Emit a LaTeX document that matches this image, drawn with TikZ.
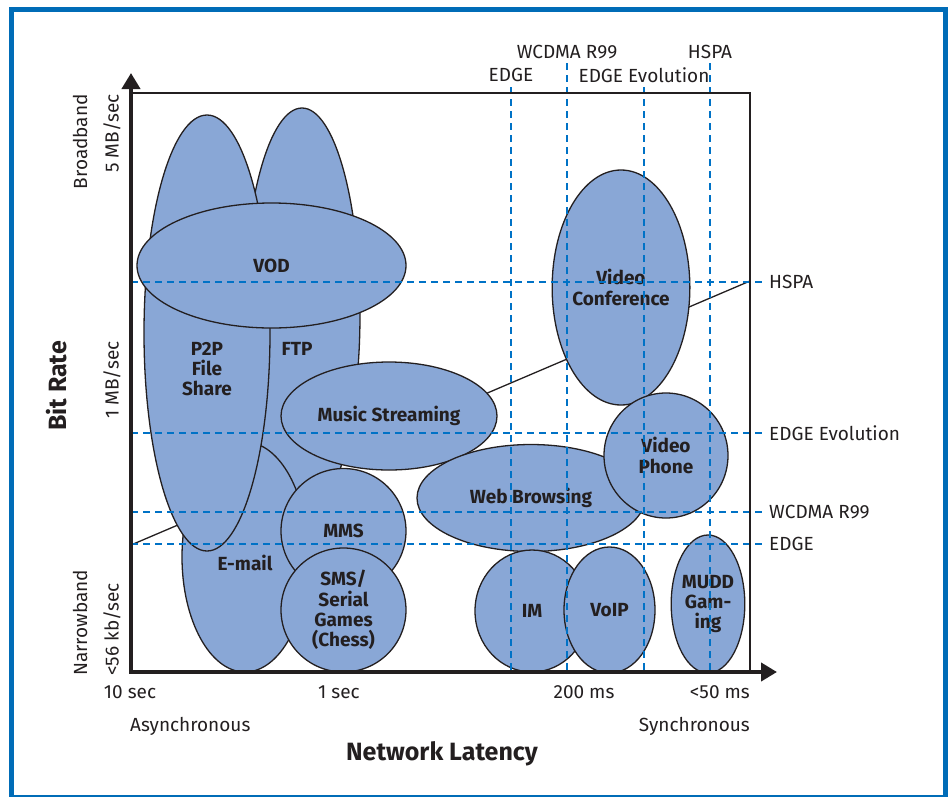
\documentclass[tikz,border=0pt]{standalone}
\usepackage{fontspec}
\setmainfont{Fira Sans}
\usetikzlibrary{shapes.geometric,arrows.meta}
\definecolor{bubblefill}{RGB}{137,167,214}
\definecolor{dashblue}{RGB}{0,114,198}
\definecolor{frameblue}{RGB}{0,108,183}
\definecolor{ink}{RGB}{35,31,32}
\begin{document}
\begin{tikzpicture}[x=1pt,y=-1pt,
  bubble/.style={ellipse, draw=ink, fill=bubblefill, line width=1.3pt, inner sep=0pt,
    font=\fontsize{19}{20.3}\selectfont\bfseries, text=ink, align=center},
  lbl/.style={font=\fontsize{19}{20.3}\selectfont\bfseries, text=ink, align=center, inner sep=0pt},
  tick/.style={font=\fontsize{19}{21}\selectfont, text=ink, inner sep=0pt},
  title/.style={font=\fontsize{25}{28}\selectfont\bfseries, text=ink, inner sep=0pt},
  gridline/.style={draw=dashblue, line width=1.4pt, dash pattern=on 7pt off 5pt},
  axisline/.style={draw=ink, line width=4pt, line join=miter},
  thinframe/.style={draw=ink, line width=1.3pt}
]
\useasboundingbox (0,0) rectangle (951,796);
\draw[frameblue, line width=5pt] (11,9) rectangle (945,797);

% diagonal line
\coordinate (dA) at (131,545);
\coordinate (dB) at (750,281);
\draw[thinframe] (dA) -- (dB);

% bubbles
\node[bubble, minimum width=116pt, minimum height=412pt] (ftp) at (302,314) {};
\node[bubble, minimum width=126pt, minimum height=230pt] (email) at (245,557) {};
\node[bubble, minimum width=126pt, minimum height=436pt] (p2p) at (207,333) {};
\node[bubble, minimum width=269pt, minimum height=125pt] (vod) at (271.5,265.5) {VOD};
\node[lbl] (p2plbl) at (207,369) {P2P\\File\\Share};
\node[lbl] (ftplbl) at (297,349) {FTP};
\node[lbl] (emaillbl) at (245,563) {E-mail};
\node[bubble, minimum width=216pt, minimum height=108pt] (music) at (389,416) {Music Streaming};
\node[bubble, minimum width=125pt, minimum height=125pt] (mms) at (343.5,531) {MMS};
\node[bubble, minimum width=125pt, minimum height=124pt] (sms) at (343.5,610) {SMS/\\Serial\\Games\\(Chess)};
\node[bubble, minimum width=228pt, minimum height=107pt] (web) at (531,498) {Web Browsing};
\node[bubble, minimum width=136pt, minimum height=235pt] (vc) at (621,287.5) {Video\\Conference};
\node[bubble, minimum width=124pt, minimum height=125pt] (vp) at (666,455.5) {Video\\Phone};
\node[bubble, minimum width=114pt, minimum height=122pt] (im) at (532,611) {IM};
\node[bubble, minimum width=91pt, minimum height=126pt] (voip) at (609.5,610) {VoIP};
\node[bubble, minimum width=60pt, minimum height=138pt] (mudd) at (708,604) {MUDD\\Gam-\\ing};

% horizontal grid lines with labels
\node[tick, anchor=west] (hHSPA) at (769,282) {HSPA};
\node[tick, anchor=west] (hEE) at (769,433) {EDGE Evolution};
\node[tick, anchor=west] (hW) at (769,512) {WCDMA R99};
\node[tick, anchor=west] (hE) at (769,544) {EDGE};
\draw[gridline] (131,282) -- ([xshift=-4pt]hHSPA.west);
\draw[gridline] (131,433) -- ([xshift=-4pt]hEE.west);
\draw[gridline] (131,512) -- ([xshift=-4pt]hW.west);
\draw[gridline] (131,544) -- ([xshift=-4pt]hE.west);

% vertical grid lines with labels
\node[tick] (vE) at (511,75) {EDGE};
\node[tick] (vW) at (567,52) {WCDMA R99};
\node[tick] (vEE) at (644,75) {EDGE Evolution};
\node[tick] (vH) at (710,52) {HSPA};
\coordinate (vEtop) at (511,87);
\coordinate (vWtop) at (567,63);
\coordinate (vEEtop) at (644,87);
\coordinate (vHtop) at (710,63);
\draw[gridline] (vEtop) -- (511,672);
\draw[gridline] (vWtop) -- (567,672);
\draw[gridline] (vEEtop) -- (644,672);
\draw[gridline] (vHtop) -- (710,672);

% frame and axes
\draw[thinframe] (131,93) -- (750,93) -- (750,672);
\coordinate (ytip) at (131,73);
\coordinate (orig) at (131,672);
\coordinate (xtip) at (777,672);
\draw[axisline, {Triangle[length=16pt,width=18pt]}-{Triangle[length=16pt,width=18pt]}] (ytip) -- (orig) -- (xtip);

% axis labels
\node[tick] (t10) at (130,692) {10 sec};
\node[tick] (t1) at (339,692) {1 sec};
\node[tick] (t200) at (584,692) {200 ms};
\node[tick, anchor=east] (t50) at (750,692) {<50 ms};
\node[tick, anchor=west] (async) at (130,726) {Asynchronous};
\node[tick, anchor=east] (sync) at (750,726) {Synchronous};
\node[title] (xtitle) at (442,754) {Network Latency};

\node[tick, rotate=90, anchor=east] (bb) at (80,94) {Broadband};
\node[tick, rotate=90, anchor=east] (m5) at (112,94) {5 MB/sec};
\node[tick, rotate=90] (m1) at (112,380) {1 MB/sec};
\node[title, rotate=90] (ytitle) at (57,386) {Bit Rate};
\node[tick, rotate=90, anchor=west] (nb) at (80,676) {Narrowband};
\node[tick, rotate=90, anchor=west] (k56) at (112,676) {<56 kb/sec};
\end{tikzpicture}
\end{document}
